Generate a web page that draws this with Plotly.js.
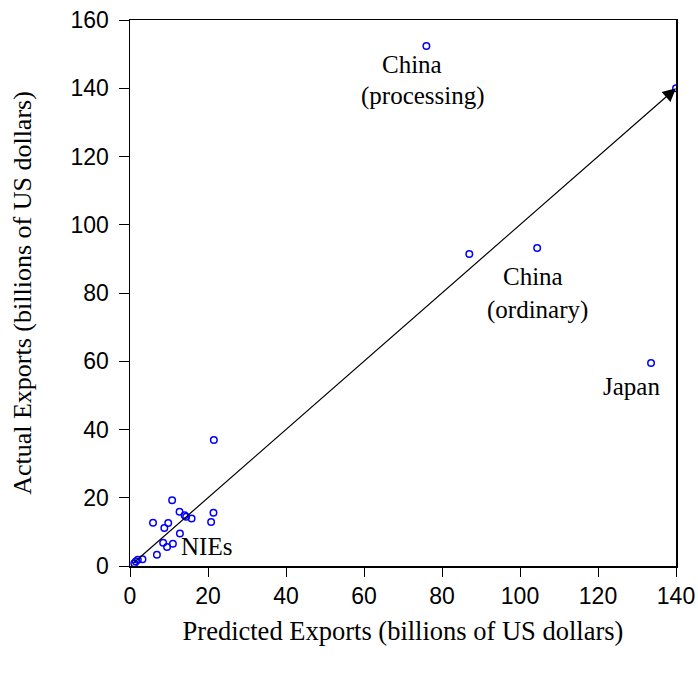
<!DOCTYPE html>
<html><head><meta charset="utf-8">
<script src="https://cdn.plot.ly/plotly-3.0.1.min.js"></script>
<style>html,body{margin:0;padding:0;background:#fff}</style>
</head><body><div id="chart" style="width:698px;height:677px"></div>
<script>
const predicted = [76.0, 140.0, 87.0, 104.4, 133.6, 21.5, 10.8, 5.9, 8.8, 9.8, 12.7, 14.0, 14.4, 15.8, 21.4, 20.8, 12.8, 8.5, 9.5, 11.0, 6.9, 3.2, 2.0, 1.5, 1.1];
const actual    = [152.4, 140.0, 91.4, 93.2, 59.5, 36.9, 19.3, 12.7, 11.1, 12.6, 15.9, 14.9, 14.4, 13.9, 15.6, 12.9, 9.5, 6.8, 5.6, 6.5, 3.3, 2.0, 1.8, 1.3, 0.8];
const labelText = ["China", "(processing)", "China", "(ordinary)", "Japan", "NIEs"];
const labelX = [72.3, 75.1, 103.3, 104.4, 128.7, 19.7];
const labelY = [147.1, 137.7, 84.7, 75.0, 52.7, 5.6];
const lineStart = [0.5, 0.5];
const lineEnd = [140, 140];
const xTicks = [0, 20, 40, 60, 80, 100, 120, 140];
const yTicks = [0, 20, 40, 60, 80, 100, 120, 140, 160];

const serif = "Liberation Serif, Times New Roman, serif";
const sans = "Liberation Sans, Arial, sans-serif";

const annotations = labelText.map((t, i) => ({
  x: labelX[i], y: labelY[i], xref: 'x', yref: 'y', text: t, showarrow: false,
  font: {family: serif, size: 25, color: '#000'}, align: 'center'
}));
annotations.push({
  x: lineEnd[0], y: lineEnd[1], ax: lineStart[0], ay: lineStart[1],
  xref: 'x', yref: 'y', axref: 'x', ayref: 'y', text: '', showarrow: true,
  arrowhead: 2, arrowsize: 2.2, arrowwidth: 1.2, arrowcolor: '#000', standoff: 0
});

Plotly.newPlot('chart', [{
  x: predicted, y: actual, type: 'scatter', mode: 'markers',
  marker: {symbol: 'circle-open', size: 6.5, color: '#0000ff', line: {width: 1.5, color: '#0000ff'}},
  hoverinfo: 'skip'
}], {
  width: 698, height: 677,
  margin: {l: 130, r: 22, t: 20, b: 111},
  paper_bgcolor: '#fff', plot_bgcolor: '#fff',
  showlegend: false,
  xaxis: {
    range: [0, 140], tickvals: xTicks, ticks: 'outside', ticklen: 9, tickwidth: 1, tickcolor: '#000',
    showgrid: false, zeroline: false, showline: true, linecolor: '#000', linewidth: 1.5, mirror: true,
    tickfont: {family: sans, size: 23, color: '#000'},
    title: {text: 'Predicted Exports (billions of US dollars)', font: {family: serif, size: 26.5, color: '#000'}, standoff: 13}
  },
  yaxis: {
    range: [0, 160], tickvals: yTicks, ticks: 'outside', ticklen: 10, tickwidth: 1, tickcolor: '#000',
    showgrid: false, zeroline: false, showline: true, linecolor: '#000', linewidth: 1.5, mirror: true,
    ticklabelstandoff: 5,
    tickfont: {family: sans, size: 23, color: '#000'},
    title: {text: 'Actual Exports (billions of US dollars)', font: {family: serif, size: 26, color: '#000'}, standoff: 31}
  },
  annotations: annotations
}, {staticPlot: true});
</script></body></html>
